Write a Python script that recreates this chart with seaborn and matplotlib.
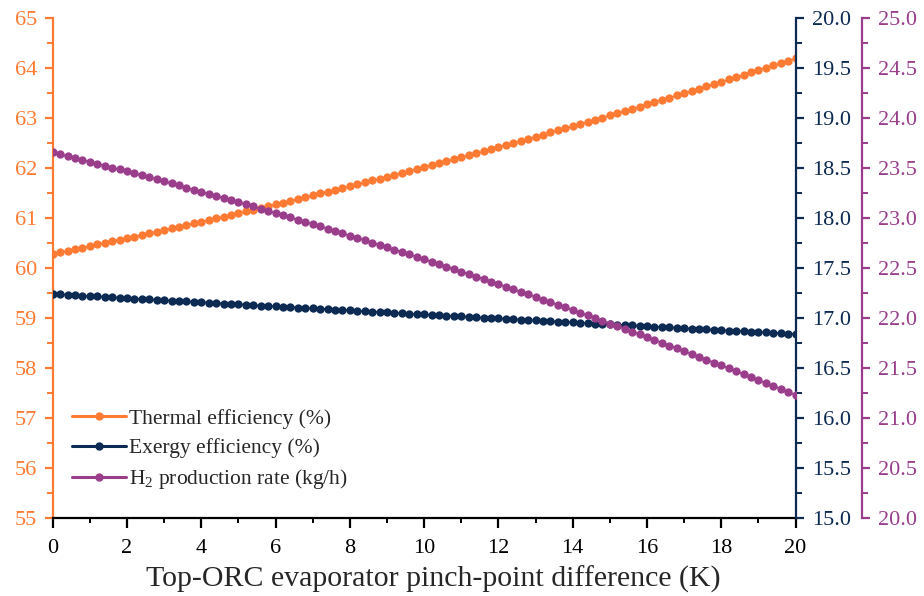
import matplotlib
matplotlib.use("Agg")
import matplotlib.pyplot as plt
import seaborn as sns
from matplotlib.ticker import MultipleLocator, FormatStrFormatter
from matplotlib.lines import Line2D

# ---------------- data ----------------
pinch_dt = [round(0.2 * i, 1) for i in range(101)]  # K

thermal_eff = [
    60.28, 60.31, 60.34, 60.37, 60.40, 60.43, 60.47, 60.50, 60.53, 60.56,
    60.59, 60.62, 60.66, 60.69, 60.72, 60.75, 60.79, 60.82, 60.85, 60.89,
    60.92, 60.96, 60.99, 61.02, 61.06, 61.09, 61.13, 61.16, 61.20, 61.23,
    61.27, 61.30, 61.34, 61.38, 61.41, 61.45, 61.49, 61.52, 61.56, 61.60,
    61.63, 61.67, 61.71, 61.75, 61.78, 61.82, 61.86, 61.90, 61.94, 61.98,
    62.02, 62.06, 62.09, 62.13, 62.17, 62.21, 62.25, 62.29, 62.33, 62.37,
    62.42, 62.46, 62.50, 62.54, 62.58, 62.62, 62.66, 62.71, 62.75, 62.79,
    62.83, 62.88, 62.92, 62.96, 63.00, 63.05, 63.09, 63.14, 63.18, 63.22,
    63.27, 63.31, 63.36, 63.40, 63.45, 63.49, 63.54, 63.58, 63.63, 63.67,
    63.72, 63.77, 63.81, 63.86, 63.91, 63.95, 64.00, 64.05, 64.09, 64.14,
    64.19,
]

exergy_eff = [
    17.240, 17.236, 17.232, 17.227, 17.223, 17.219, 17.215, 17.211, 17.207, 17.202,
    17.198, 17.194, 17.190, 17.186, 17.182, 17.177, 17.173, 17.169, 17.165, 17.161,
    17.157, 17.153, 17.149, 17.144, 17.140, 17.136, 17.132, 17.128, 17.124, 17.120,
    17.116, 17.112, 17.108, 17.104, 17.100, 17.095, 17.091, 17.087, 17.083, 17.079,
    17.075, 17.071, 17.067, 17.063, 17.059, 17.055, 17.051, 17.047, 17.043, 17.039,
    17.035, 17.031, 17.027, 17.023, 17.019, 17.015, 17.011, 17.007, 17.003, 16.999,
    16.995, 16.991, 16.987, 16.983, 16.979, 16.975, 16.971, 16.968, 16.964, 16.960,
    16.956, 16.952, 16.948, 16.944, 16.940, 16.936, 16.932, 16.928, 16.925, 16.921,
    16.917, 16.913, 16.909, 16.905, 16.901, 16.897, 16.894, 16.890, 16.886, 16.882,
    16.878, 16.874, 16.871, 16.867, 16.863, 16.859, 16.855, 16.851, 16.848, 16.844,
    16.840,
]

h2_rate = [
    23.655, 23.636, 23.618, 23.599, 23.580, 23.561, 23.542, 23.523, 23.503, 23.484,
    23.464, 23.445, 23.425, 23.405, 23.385, 23.365, 23.344, 23.324, 23.303, 23.283,
    23.262, 23.241, 23.220, 23.199, 23.178, 23.157, 23.135, 23.114, 23.092, 23.070,
    23.048, 23.026, 23.004, 22.982, 22.960, 22.937, 22.915, 22.892, 22.869, 22.846,
    22.823, 22.800, 22.777, 22.753, 22.730, 22.706, 22.682, 22.659, 22.635, 22.611,
    22.587, 22.562, 22.538, 22.513, 22.489, 22.464, 22.439, 22.414, 22.389, 22.364,
    22.338, 22.313, 22.287, 22.262, 22.236, 22.210, 22.184, 22.158, 22.131, 22.105,
    22.079, 22.052, 22.025, 21.998, 21.971, 21.944, 21.917, 21.890, 21.863, 21.835,
    21.807, 21.780, 21.752, 21.724, 21.696, 21.667, 21.639, 21.611, 21.582, 21.554,
    21.525, 21.496, 21.467, 21.438, 21.409, 21.379, 21.350, 21.320, 21.290, 21.261,
    21.231,
]

series_labels = ["Thermal efficiency (%)", "Exergy efficiency (%)",
                 "H$_2$ production rate (kg/h)"]
x_label = "Top-ORC evaporator pinch-point difference (K)"

# ---------------- style ----------------
sns.set_style("ticks")
plt.rcParams["font.family"] = ["Liberation Serif", "DejaVu Serif"]
plt.rcParams["mathtext.fontset"] = "custom"
plt.rcParams["mathtext.rm"] = "Liberation Serif"
plt.rcParams["mathtext.it"] = "Liberation Serif:italic"

C_OR = "#FF7A33"
C_NV = "#0C2A52"
C_PU = "#9A3E8C"
TICK_FS = 16

fig = plt.figure(figsize=(9.24, 5.96), dpi=100)
ax = fig.add_axes([0.057, 0.131, 0.804, 0.839])
ax2 = ax.twinx()
ax3 = ax.twinx()
ax3.spines["right"].set_position(("axes", 1.0888))

mk = dict(marker="o", markersize=6.0, markeredgewidth=0, linewidth=1.2)
sns.lineplot(x=pinch_dt, y=thermal_eff, ax=ax, color=C_OR, **mk)
sns.lineplot(x=pinch_dt, y=exergy_eff, ax=ax2, color=C_NV, **mk)
sns.lineplot(x=pinch_dt, y=h2_rate, ax=ax3, color=C_PU, **mk)

# axis ranges / ticks
ax.set_xlim(0, 20)
ax.set_ylim(55, 65)
ax2.set_ylim(15, 20)
ax3.set_ylim(20, 25)

ax.xaxis.set_major_locator(MultipleLocator(2))
ax.xaxis.set_minor_locator(MultipleLocator(1))
ax.yaxis.set_major_locator(MultipleLocator(1))
ax.yaxis.set_minor_locator(MultipleLocator(0.5))
for a in (ax2, ax3):
    a.yaxis.set_major_locator(MultipleLocator(0.5))
    a.yaxis.set_minor_locator(MultipleLocator(0.25))
    a.yaxis.set_major_formatter(FormatStrFormatter("%.1f"))

ax.set_xlabel(x_label, fontsize=21.5)
ax.xaxis.set_label_coords(0.513, -0.095)
ax.set_ylabel("")
ax2.set_ylabel("")
ax3.set_ylabel("")

# spines
for s in ("top", "right"):
    ax.spines[s].set_visible(False)
ax.spines["left"].set_color(C_OR)
ax.spines["bottom"].set_color("black")
for a, c in ((ax2, C_NV), (ax3, C_PU)):
    for s in ("top", "left", "bottom"):
        a.spines[s].set_visible(False)
    a.spines["right"].set_color(c)
for a in (ax, ax2, ax3):
    for sp in a.spines.values():
        sp.set_linewidth(1.6)

ax.tick_params(axis="x", which="major", length=7, width=1.6, colors="black",
               labelsize=TICK_FS, pad=8, direction="out")
ax.tick_params(axis="x", which="minor", length=3.5, width=1.4, colors="black",
               direction="out")
ax.tick_params(axis="y", which="major", length=6, width=1.6, colors=C_OR,
               labelsize=TICK_FS, pad=5, direction="out")
ax.tick_params(axis="y", which="minor", length=4, width=1.4, colors=C_OR,
               direction="out")
for a, c in ((ax2, C_NV), (ax3, C_PU)):
    a.tick_params(axis="y", which="major", length=6, width=1.6, colors=c,
                  labelsize=TICK_FS, pad=6, direction="out")
    a.tick_params(axis="y", which="minor", length=4, width=1.4, colors=c,
                  direction="out")

# legend
handles = [Line2D([], [], color=c, marker="o", markersize=5, linewidth=2.2)
           for c in (C_OR, C_NV, C_PU)]
leg = ax.legend(handles, series_labels, loc="upper left",
                bbox_to_anchor=(0.026, 0.218), frameon=False, fontsize=15.5,
                handlelength=2.5, handletextpad=0.15, labelspacing=0.42,
                borderpad=0, borderaxespad=0)

fig.savefig("out.png", dpi=100)
